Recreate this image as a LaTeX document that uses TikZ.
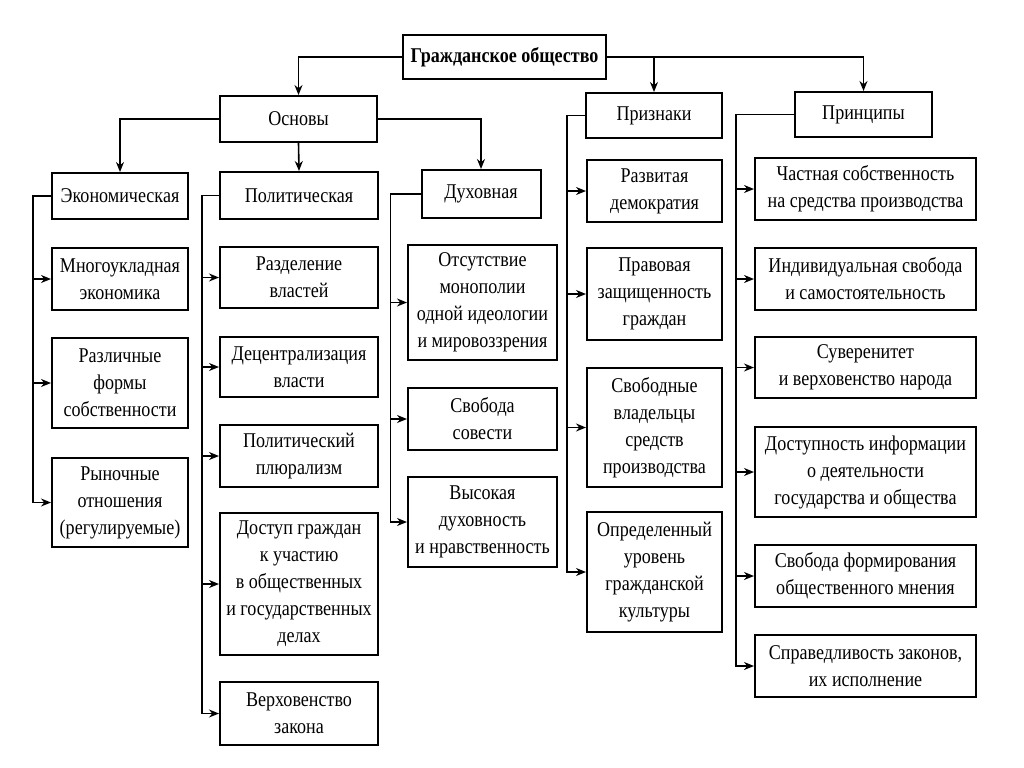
\documentclass[tikz,border=0pt]{standalone}
\usepackage{fontspec}
\setmainfont[FakeStretch=0.86]{Liberation Serif}
\usepackage{tikz}
\usetikzlibrary{arrows, arrows.meta, positioning}
\tikzstyle{arrow} = [thick,->,>={Stealth[length=5pt,width=4pt]}]

\begin{document}
\begin{tikzpicture}[x=0.5pt, y=-0.5pt]
	% Styles for the blocks of the scheme
	\tikzstyle{block} = [rectangle, draw, line width=1pt, align=center, inner sep=0pt, font=\fontsize{10.5}{13.5}\selectfont]
	\tikzstyle{econblock} = [block, minimum width=68pt]
	\tikzstyle{polblock} = [block, minimum width=79pt]
	\tikzstyle{spiritblock} = [block, minimum width=74.5pt]
	\tikzstyle{signblock} = [block, minimum width=67.5pt]
	\tikzstyle{princblock} = [block, minimum width=110.5pt]
	
	\useasboundingbox (0,0) rectangle (1024,767);
	
	% Top level
	\node[block, minimum width=101.5pt, minimum height=22pt, font=\fontsize{10.5}{13.5}\selectfont\bfseries] (society) at (504.5,57) {Гражданское общество};
	\node[block, minimum width=78.5pt, minimum height=23pt] (bases) at (298.5,119) {Основы};
	\node[block, minimum width=68pt, minimum height=22.5pt] (signs) at (654,115.5) {Признаки};
	\node[block, minimum width=68.5pt, minimum height=22.5pt] (principles) at (863.5,114.5) {Принципы};
	
	% Bases
	\node[econblock, minimum height=23pt] (econ) at (120,196) {Экономическая};
	\node[polblock, minimum height=23.5pt] (polit) at (299,195.5) {Политическая};
	\node[block, minimum width=59.5pt, minimum height=24pt] (spirit) at (481,194) {Духовная};
	
	% Economic
	\node[econblock, minimum height=31pt] (econA) at (120,279) {Многоукладная\\экономика};
	\node[econblock, minimum height=45pt] (econB) at (120,383) {Различные\\формы\\собственности};
	\node[econblock, minimum height=44.5pt] (econC) at (120,502.5) {Рыночные\\отношения\\(регулируемые)};
	
	% Political
	\node[polblock, minimum height=30.5pt] (polA) at (299,277.5) {Разделение\\властей};
	\node[polblock, minimum height=30pt] (polB) at (299,367) {Децентрализация\\власти};
	\node[polblock, minimum height=31pt] (polC) at (299,456) {Политический\\плюрализм};
	\node[polblock, minimum height=71pt] (polD) at (299,584) {Доступ граждан\\к участию\\в общественных\\и государственных\\делах};
	\node[polblock, minimum height=31.5pt] (polE) at (299,713.5) {Верховенство\\закона};
	
	% Spiritual
	\node[spiritblock, minimum height=57.5pt] (spiritA) at (482.5,302.5) {Отсутствие\\монополии\\одной идеологии\\и мировоззрения};
	\node[spiritblock, minimum height=31pt] (spiritB) at (482.5,419) {Свобода\\совести};
	\node[spiritblock, minimum height=45pt] (spiritC) at (482.5,522) {Высокая\\духовность\\и нравственность};
	
	% Signs
	\node[signblock, minimum height=31pt] (signA) at (654.5,191) {Развитая\\демократия};
	\node[signblock, minimum height=46pt] (signB) at (654.5,294) {Правовая\\защищенность\\граждан};
	\node[signblock, minimum height=59.5pt] (signC) at (654.5,427.5) {Свободные\\владельцы\\средств\\производства};
	\node[signblock, minimum height=60pt] (signD) at (654.5,572) {Определенный\\уровень\\гражданской\\культуры};
	
	% Principles
	\node[princblock, minimum height=31pt] (princA) at (865.5,189) {Частная собственность\\на средства производства};
	\node[princblock, minimum height=31pt] (princB) at (865.5,279) {Индивидуальная свобода\\и самостоятельность};
	\node[princblock, minimum height=30.5pt] (princC) at (865.5,367.5) {Суверенитет\\и верховенство народа};
	\node[princblock, minimum height=45pt] (princD) at (865.5,472) {Доступность информации\\о деятельности\\государства и общества};
	\node[princblock, minimum height=31pt] (princE) at (865.5,576) {Свобода формирования\\общественного мнения};
	\node[princblock, minimum height=31pt] (princF) at (865.5,666) {Справедливость законов,\\их исполнение};
	
	% Arrows from the top
	\draw[arrow] (society.west) -| (bases.north);
	\draw[arrow] (society.east) -| (signs.north);
	\draw[arrow] (society.east) -| (principles.north);
	\draw[arrow] (bases.west) -| (econ.north);
	\draw[arrow] (bases.south) -- (polit.north);
	\draw[arrow] (bases.east) -| (spirit.north);
	
	% Arrows to the lists
	\foreach \n in {econA, econB, econC}
		\draw[arrow] (econ.west) -- ++(-18,0) |- (\n.west);
	\foreach \n in {polA, polB, polC, polD, polE}
		\draw[arrow] (polit.west) -- ++(-17,0) |- (\n.west);
	\foreach \n in {spiritA, spiritB, spiritC}
		\draw[arrow] (spirit.west) -- ++(-30,0) |- (\n.west);
	\foreach \n in {signA, signB, signC, signD}
		\draw[arrow] (signs.west) -- ++(-18,0) |- (\n.west);
	\foreach \n in {princA, princB, princC, princD, princE, princF}
		\draw[arrow] (principles.west) -- ++(-58,0) |- (\n.west);
\end{tikzpicture}
\end{document}
